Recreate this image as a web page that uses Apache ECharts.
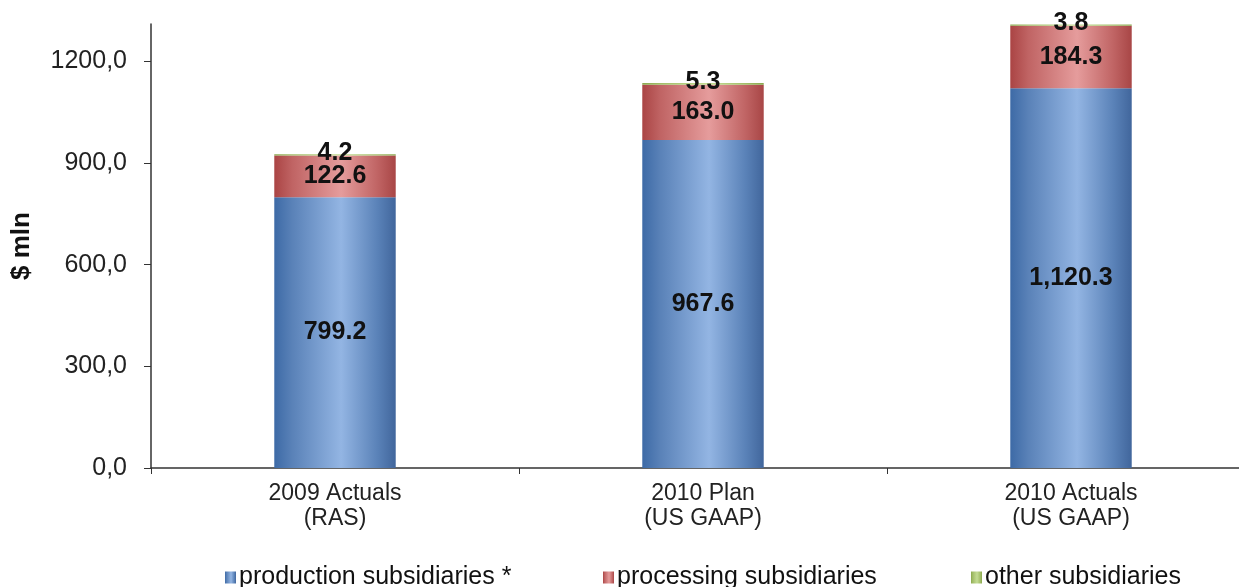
<!DOCTYPE html>
<html>
<head>
<meta charset="utf-8">
<script src="https://cdn.jsdelivr.net/npm/echarts@6/dist/echarts.min.js"></script>
<style>
  html, body { margin: 0; padding: 0; background: #ffffff; overflow: hidden; }
  #chart { width: 1255px; height: 587px; }
</style>
</head>
<body>
<div id="chart"></div>
<script>
// Revenue by subsidiary group, $ mln
const categories = ['2009 Actuals\n(RAS)', '2010 Plan\n(US GAAP)', '2010 Actuals\n(US GAAP)'];
const production = [799.2, 967.6, 1120.3];
const processing = [122.6, 163.0, 184.3];
const other = [4.2, 5.3, 3.8];
const yTicks = [0, 300, 600, 900, 1200];
const seriesNames = ['production subsidiaries *', 'processing subsidiaries', 'other subsidiaries'];

const FONT = '"Liberation Sans", Arial, sans-serif';

// Horizontal shading: dark edges, light band a little right of centre
function barGradient(edge, side, mid, edgeRight) {
  return new echarts.graphic.LinearGradient(0, 0, 1, 0, [
    { offset: 0, color: edge },
    { offset: 0.15, color: side },
    { offset: 0.55, color: mid },
    { offset: 0.85, color: side },
    { offset: 1, color: edgeRight }
  ]);
}

function fmtValue(v) {
  return v.toLocaleString('en-US', { minimumFractionDigits: 1, maximumFractionDigits: 1 });
}

const labelStyle = {
  show: true,
  position: 'inside',
  fontFamily: FONT,
  fontSize: 25,
  fontWeight: 'bold',
  color: '#111111',
  formatter: p => fmtValue(p.value)
};

const chart = echarts.init(document.getElementById('chart'), null, { renderer: 'canvas' });

chart.setOption({
  animation: false,
  backgroundColor: '#ffffff',
  grid: { left: 151, right: 0, top: 24, bottom: 119, containLabel: false },
  legend: [0, 1, 2].map((i, k) => ({
    data: [seriesNames[i]],
    left: [220, 598, 966][k],
    top: 560,
    icon: 'rect',
    itemWidth: 11,
    itemHeight: 12,
    itemGap: 4,
    textStyle: { fontFamily: FONT, fontSize: 25, color: '#111111', padding: [0, 0, 0, -2] }
  })),
  xAxis: {
    type: 'category',
    data: categories,
    axisLine: { show: true, lineStyle: { color: '#333333', width: 1.5 } },
    axisTick: { show: true, length: 6, alignWithLabel: false, lineStyle: { color: '#333333' } },
    axisLabel: {
      fontFamily: FONT, fontSize: 23, color: '#222222',
      lineHeight: 25, margin: 13
    }
  },
  yAxis: {
    type: 'value',
    min: 0,
    max: 1310,
    interval: 300,
    name: '$ mln',
    nameLocation: 'middle',
    nameGap: 116,
    nameRotate: 90,
    nameTextStyle: { fontFamily: FONT, fontSize: 26, fontWeight: 'bold', color: '#111111' },
    axisLine: { show: true, lineStyle: { color: '#333333', width: 1.5 } },
    axisTick: { show: true, length: 7, inside: false, customValues: yTicks, lineStyle: { color: '#333333' } },
    splitLine: { show: false },
    axisLabel: {
      customValues: yTicks,
      fontFamily: FONT, fontSize: 25, color: '#222222', margin: 24,
      formatter: v => v.toFixed(1).replace('.', ',')
    }
  },
  series: [
    {
      name: seriesNames[0], type: 'bar', stack: 'total', data: production,
      barWidth: '33%',
      itemStyle: { color: barGradient('#3d6aa6', '#5a82b8', '#93b5e3', '#41669c') },
      label: labelStyle
    },
    {
      name: seriesNames[1], type: 'bar', stack: 'total', data: processing,
      barWidth: '33%',
      itemStyle: { color: barGradient('#aa4444', '#c06464', '#e59c9c', '#a84646') },
      label: labelStyle
    },
    {
      name: seriesNames[2], type: 'bar', stack: 'total', data: other,
      barWidth: '33%',
      itemStyle: { color: barGradient('#8aa84e', '#a2bd68', '#c4dc94', '#8aa84e') },
      label: Object.assign({}, labelStyle, { offset: [0, -2] })
    }
  ]
});
</script>
</body>
</html>
